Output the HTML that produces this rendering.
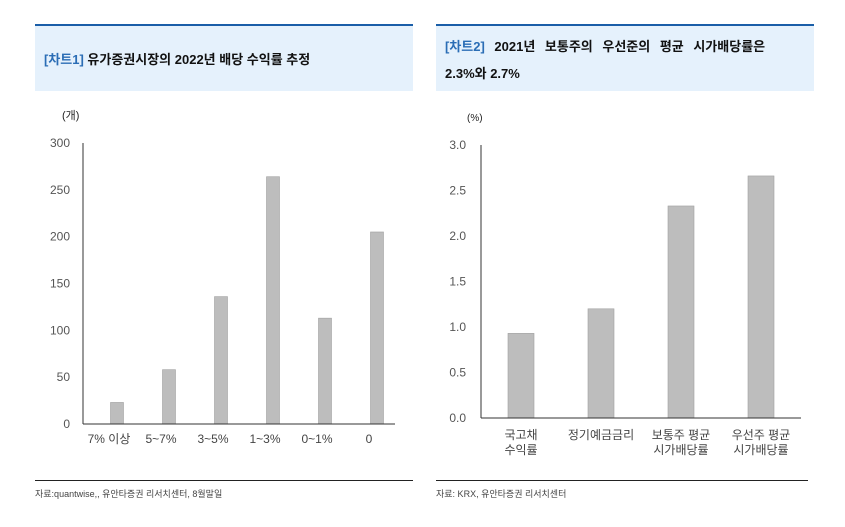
<!DOCTYPE html>
<html><head><meta charset="utf-8"><style>
body{margin:0;width:845px;height:527px;background:#fff;font-family:"Liberation Sans","Noto Sans CJK KR",sans-serif;position:relative;overflow:hidden}
.hdr{position:absolute;top:24px;height:65px;background:#e5f1fc;border-top:2px solid #1a5ea8}
.t{position:absolute;font-size:13px;font-weight:bold;color:#111}
.t b{color:#2a6db5;font-weight:bold}
.foot{position:absolute;top:480px;height:1px;background:#222}
.src{position:absolute;top:487px;font-size:9px;color:#444}
svg{position:absolute;left:0;top:0}
</style></head><body>
<div class="hdr" style="left:35px;width:378px"></div>
<div class="hdr" style="left:436px;width:378px"></div>
<div class="t" style="left:44px;top:49px"><b>[차트1]</b> 유가증권시장의 2022년 배당 수익률 추정</div>
<div class="t" style="left:445px;top:36px;word-spacing:6px"><b>[차트2]</b> 2021년 보통주의 우선준의 평균 시가배당률은</div>
<div class="t" style="left:445px;top:63px">2.3%와 2.7%</div>
<div class="foot" style="left:35px;width:378px"></div>
<div class="foot" style="left:436px;width:372px"></div>
<div class="src" style="left:35px">자료:quantwise,, 유안타증권 리서치센터, 8월말일</div>
<div class="src" style="left:436px">자료: KRX, 유안타증권 리서치센터</div>
<svg width="845" height="527" id="s"></svg>
<script>
const c1Cats=["7% 이상","5~7%","3~5%","1~3%","0~1%","0"];
const c1Vals=[23,58,136,264,113,205];
const c1Ticks=[0,50,100,150,200,250,300];
const c2Cats=[["국고채","수익률"],["정기예금금리"],["보통주 평균","시가배당률"],["우선주 평균","시가배당률"]];
const c2Vals=[0.93,1.2,2.33,2.66];
const c2Ticks=[0,0.5,1,1.5,2,2.5,3];
const NS="http://www.w3.org/2000/svg",S=document.getElementById('s');
function mk(t,a,txt){const e=document.createElementNS(NS,t);for(const k in a)e.setAttribute(k,a[k]);if(txt!=null)e.textContent=txt;S.appendChild(e);return e;}
// chart1
const y1=v=>424-v/300*281, x1=i=>117+52*i;
c1Ticks.forEach(v=>{const e=mk('text',{x:70,y:y1(v)+4,'text-anchor':'end','font-size':12,fill:'#555'},v);

});
c1Vals.forEach((v,i)=>{const e=mk('rect',{x:x1(i)-6.5,y:y1(v),width:13,height:424-y1(v),fill:'#bdbdbd',stroke:'#a0a0a0','stroke-width':0.6});

});
c1Cats.forEach((c,i)=>{const e=mk('text',{x:x1(i)-8,y:443,'text-anchor':'middle','font-size':12,fill:'#444'},c);

});
mk('line',{x1:83,y1:143,x2:83,y2:424,stroke:'#333'});
mk('line',{x1:83,y1:424,x2:395,y2:424,stroke:'#333'});
mk('text',{x:62,y:119,'font-size':11,fill:'#222'},'(개)');
// chart2
const y2=v=>418-v/3*273, x2=i=>521+80*i;
c2Ticks.forEach(v=>{const e=mk('text',{x:466,y:y2(v)+4,'text-anchor':'end','font-size':12,fill:'#555'},v.toFixed(1));

});
c2Vals.forEach((v,i)=>{const e=mk('rect',{x:x2(i)-13,y:y2(v),width:26,height:418-y2(v),fill:'#bdbdbd',stroke:'#a0a0a0','stroke-width':0.6});

});
c2Cats.forEach((c,i)=>c.forEach((l,j)=>{const e=mk('text',{x:x2(i),y:439+j*15,'text-anchor':'middle','font-size':12,fill:'#444'},l);

}));
mk('line',{x1:481,y1:145,x2:481,y2:418,stroke:'#333'});
mk('line',{x1:481,y1:418,x2:801,y2:418,stroke:'#333'});
mk('text',{x:467,y:121,'font-size':10,fill:'#222'},'(%)');
</script>
</body></html>
